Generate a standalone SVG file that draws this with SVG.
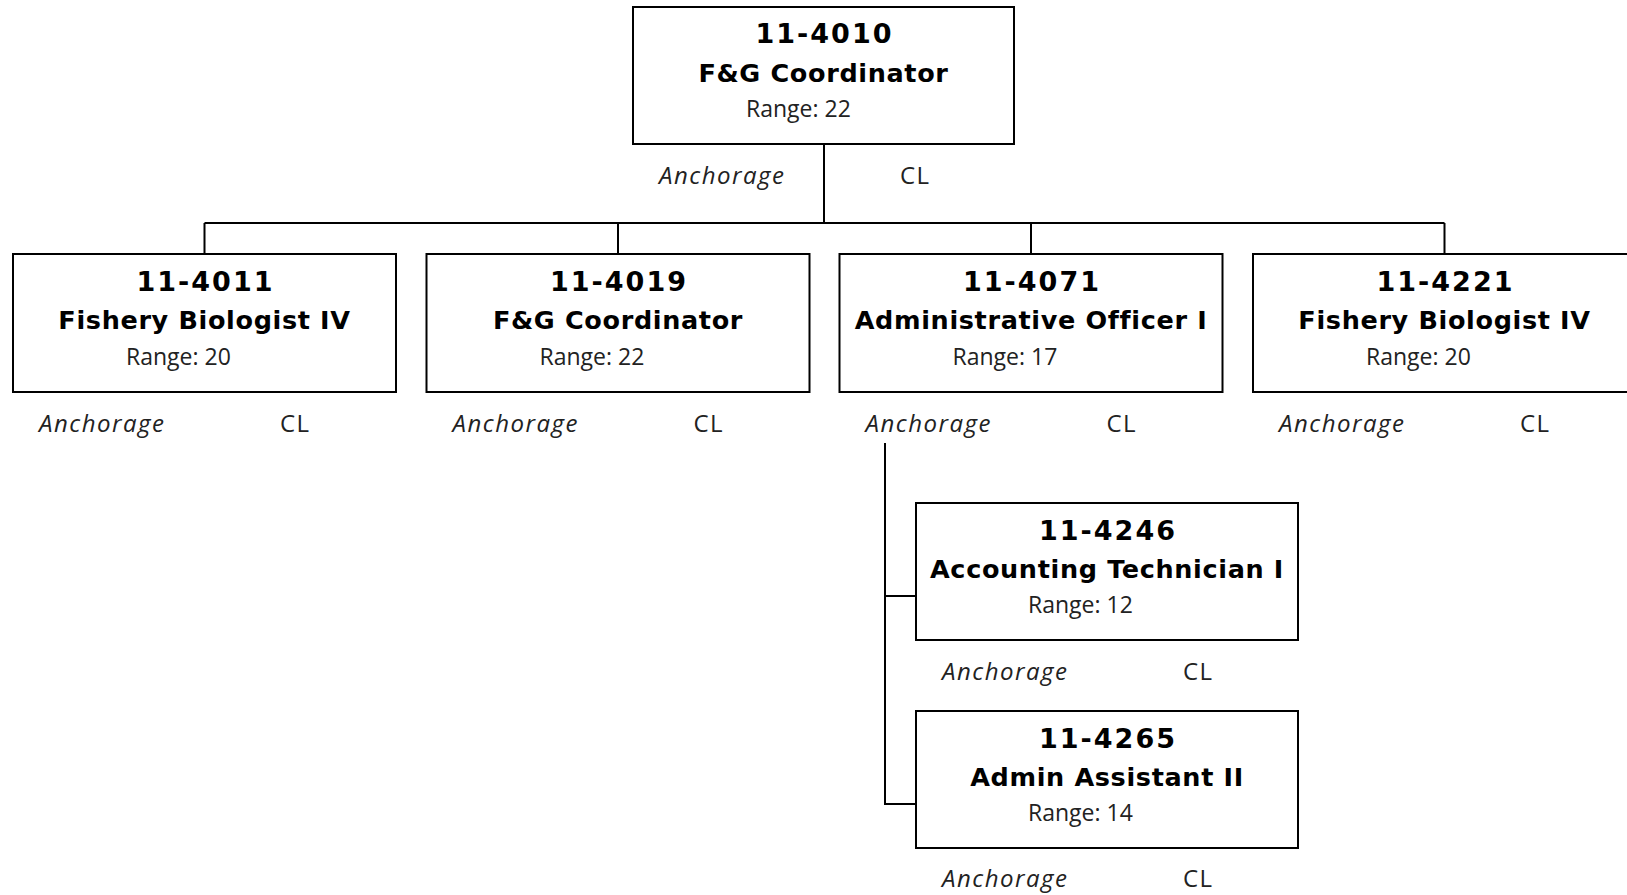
<svg xmlns="http://www.w3.org/2000/svg" width="1627" height="895" viewBox="0 0 1627 895">
<style>
.box{fill:#fff;stroke:#000;stroke-width:2}
.con{stroke:#000;stroke-width:2;fill:none}
.num{font-family:"DejaVu Sans",Verdana,sans-serif;font-weight:bold;font-size:27px;letter-spacing:2px;text-anchor:middle;fill:#000}
.ttl{font-family:"DejaVu Sans",Verdana,sans-serif;font-weight:bold;font-size:25.5px;letter-spacing:0.65px;text-anchor:middle;fill:#000}
.rng{font-family:"Open Sans","Liberation Sans",sans-serif;font-size:23px;fill:#222}
.loc{font-family:"Open Sans","Liberation Sans",sans-serif;font-style:italic;font-size:24px;letter-spacing:1.5px;fill:#222}
.cl{font-family:"Open Sans","Liberation Sans",sans-serif;font-size:24px;letter-spacing:1.5px;fill:#222}
</style>
<rect width="1627" height="895" fill="#fff"/>
<g id="connectors">
<path class="con" d="M824 144V223M204.5 223H1444.5M204.5 223V254M618 223V254M1031 223V254M1444.5 223V254"/>
<path class="con" d="M885 443V804H916M885 596H916"/>
</g>
<g id="n4010">
<rect class="box" x="633" y="7" width="381" height="137"/>
<text class="num" x="824.5" y="43">11-4010</text>
<text class="ttl" x="823.5" y="82">F&amp;G Coordinator</text>
<text class="rng" x="746" y="117">Range: 22</text>
<text class="loc" x="659" y="184">Anchorage</text>
<text class="cl" x="900" y="184">CL</text>
</g>
<g id="n4011">
<rect class="box" x="13" y="254" width="383" height="138"/>
<text class="num" x="205.5" y="291">11-4011</text>
<text class="ttl" x="204.5" y="329">Fishery Biologist IV</text>
<text class="rng" x="126" y="365">Range: 20</text>
<text class="loc" x="39" y="432">Anchorage</text>
<text class="cl" x="280" y="432">CL</text>
</g>
<g id="n4019">
<rect class="box" x="426.5" y="254" width="383" height="138"/>
<text class="num" x="619" y="291">11-4019</text>
<text class="ttl" x="618" y="329">F&amp;G Coordinator</text>
<text class="rng" x="539.5" y="365">Range: 22</text>
<text class="loc" x="452.5" y="432">Anchorage</text>
<text class="cl" x="693.5" y="432">CL</text>
</g>
<g id="n4071">
<rect class="box" x="839.5" y="254" width="383" height="138"/>
<text class="num" x="1032" y="291">11-4071</text>
<text class="ttl" x="1031" y="329">Administrative Officer I</text>
<text class="rng" x="952.5" y="365">Range: 17</text>
<text class="loc" x="865.5" y="432">Anchorage</text>
<text class="cl" x="1106.5" y="432">CL</text>
</g>
<g id="n4221">
<rect class="box" x="1253" y="254" width="383" height="138"/>
<text class="num" x="1445.5" y="291">11-4221</text>
<text class="ttl" x="1444.5" y="329">Fishery Biologist IV</text>
<text class="rng" x="1366" y="365">Range: 20</text>
<text class="loc" x="1279" y="432">Anchorage</text>
<text class="cl" x="1520" y="432">CL</text>
</g>
<g id="n4246">
<rect class="box" x="916" y="503" width="382" height="137"/>
<text class="num" x="1108" y="540">11-4246</text>
<text class="ttl" x="1107" y="578">Accounting Technician I</text>
<text class="rng" x="1028" y="613">Range: 12</text>
<text class="loc" x="942" y="680">Anchorage</text>
<text class="cl" x="1183" y="680">CL</text>
</g>
<g id="n4265">
<rect class="box" x="916" y="711" width="382" height="137"/>
<text class="num" x="1108" y="748">11-4265</text>
<text class="ttl" x="1107" y="786">Admin Assistant II</text>
<text class="rng" x="1028" y="821">Range: 14</text>
<text class="loc" x="942" y="887">Anchorage</text>
<text class="cl" x="1183" y="887">CL</text>
</g>
</svg>
